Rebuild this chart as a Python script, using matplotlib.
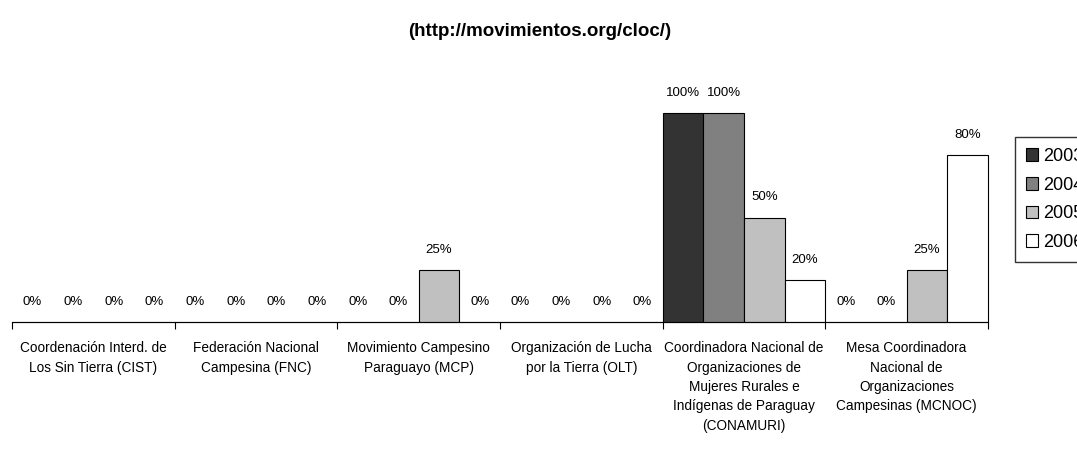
import numpy as np
import matplotlib.pyplot as plt

plt.rcParams['font.family'] = ['Liberation Sans Narrow', 'Liberation Sans', 'DejaVu Sans']

groups = ["Coordenación Interd. de\nLos Sin Tierra (CIST)",
          "Federación Nacional\nCampesina (FNC)",
          "Movimiento Campesino\nParaguayo (MCP)",
          "Organización de Lucha\npor la Tierra (OLT)",
          "Coordinadora Nacional de\nOrganizaciones de\nMujeres Rurales e\nIndígenas de Paraguay\n(CONAMURI)",
          "Mesa Coordinadora\nNacional de\nOrganizaciones\nCampesinas (MCNOC)"]
years = ["2003", "2004", "2005", "2006"]
v2003 = [0, 0, 0, 0, 100, 0]
v2004 = [0, 0, 0, 0, 100, 0]
v2005 = [0, 0, 25, 0, 50, 25]
v2006 = [0, 0, 0, 0, 20, 80]
colors = ["#333333", "#808080", "#c0c0c0", "#ffffff"]

fig = plt.figure(figsize=(10.77, 4.51), dpi=100)
ax = fig.add_axes([12/1077, 129/451, 976/1077, 250.8/451])

x = np.arange(len(groups))
w = 0.25
for j, vals in enumerate([v2003, v2004, v2005, v2006]):
    pos = x + (j - 1.5) * w
    ax.bar(pos, vals, width=w, color=colors[j], edgecolor='black', linewidth=0.8,
           label=years[j], clip_on=False)
    for p, v in zip(pos, vals):
        ax.annotate(f"{v}%", (p, v), xytext=(0, 14.4), textcoords='offset points',
                    ha='center', va='center', fontsize=9.5)

ax.set_xlim(-0.5, 5.5)
ax.set_ylim(0, 120)
for s in ['top', 'right', 'left']:
    ax.spines[s].set_visible(False)
ax.spines['bottom'].set_linewidth(0.8)
ax.set_yticks([])
ax.set_xticks(np.arange(-0.5, 6, 1))
ax.set_xticklabels([])
ax.tick_params(axis='x', which='major', length=5, width=0.8, direction='out')
ax.set_xticks(x, minor=True)
ax.set_xticklabels(groups, minor=True, fontsize=9.8, linespacing=1.48)
ax.tick_params(axis='x', which='minor', length=0, pad=14)

fig.text(540/1077, 1 - 32/451, "(http://movimientos.org/cloc/)", ha='center', va='center',
         fontsize=13.5, fontweight='bold')

fig.legend(loc='upper left', bbox_to_anchor=(1015/1077, 1 - 137/451), fontsize=13,
           frameon=True, fancybox=False, edgecolor='black', handlelength=0.7, handleheight=0.7,
           handletextpad=0.25, labelspacing=0.65, borderpad=0.6, borderaxespad=0)

fig.savefig("out.png", dpi=100)
